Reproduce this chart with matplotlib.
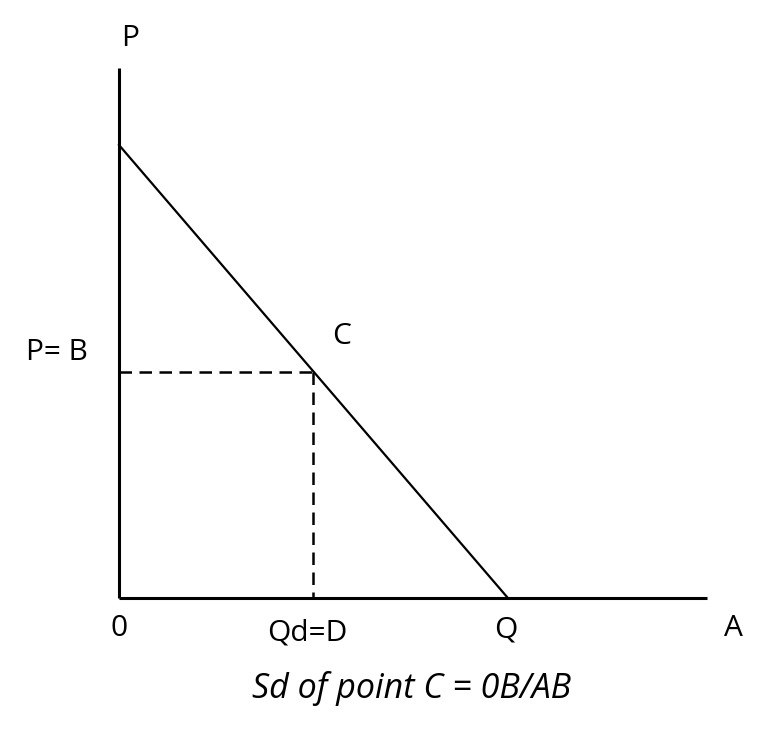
import matplotlib
matplotlib.use("Agg")
import matplotlib.pyplot as plt

# Data (economic units)
p_intercept = 10.0      # demand line meets price axis
q_intercept = 10.0      # demand line meets quantity axis
point_c = (5.0, 5.0)    # point C on the demand line (Qd, P)
x_axis_end = 15.12
y_axis_end = 11.7

labels = {
    "P": (130, 38),
    "P= B": (57, 352),
    "C": (342, 336),
    "0": (119, 628),
    "Qd=D": (307, 633),
    "Q": (506, 630),
    "A": (733, 628),
}
caption = "Sd of point C = 0B/AB"

W, H = 766, 731
fig = plt.figure(figsize=(W / 100, H / 100), dpi=100)
ax = fig.add_axes([119 / W, (H - 598) / H, 588 / W, 530 / H])
ax.set_xlim(0, x_axis_end)
ax.set_ylim(0, y_axis_end)
ax.axis("off")

# Axes lines
ax.plot([0, 0], [0, y_axis_end], color="black", lw=2.2, clip_on=False, solid_capstyle="butt")
ax.plot([0, x_axis_end], [0, 0], color="black", lw=2.2, clip_on=False, solid_capstyle="butt")

# Demand line
ax.plot([0, q_intercept], [p_intercept, 0], color="black", lw=1.6, clip_on=False)

# Dashed guides
cx, cy = point_c
ax.plot([0, cx], [cy, cy], color="black", lw=1.8, ls=(0, (5, 3)), clip_on=False)
ax.plot([cx, cx], [cy, 0], color="black", lw=1.8, ls=(0, (5, 3)), clip_on=False)

font = "Open Sans"
for txt, (px, py) in labels.items():
    fig.text(px / W, 1 - py / H, txt, ha="center", va="center",
             fontsize=21.5, family=font, color="black")
fig.text(412 / W, 1 - 688 / H, caption, ha="center", va="center",
         fontsize=24.5, family=font, style="italic", color="black")

fig.savefig("out.png", dpi=100)
